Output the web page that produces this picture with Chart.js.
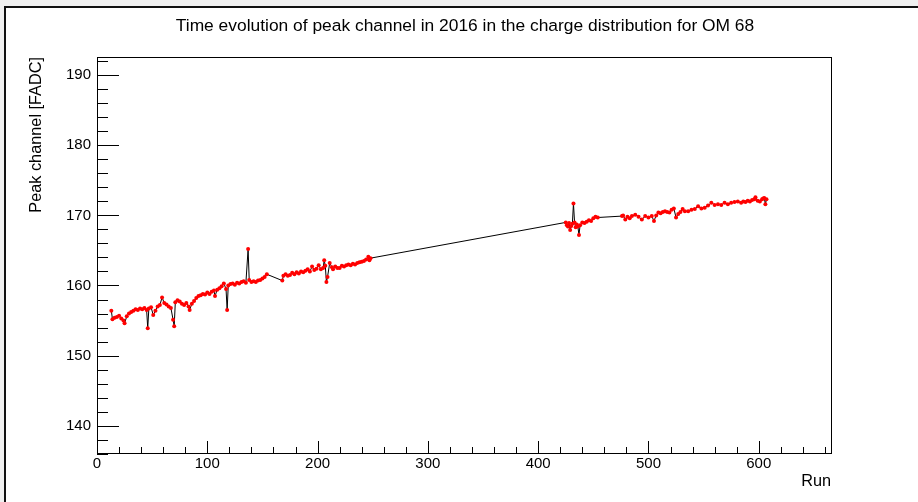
<!DOCTYPE html>
<html>
<head>
<meta charset="utf-8">
<script src="https://cdn.jsdelivr.net/npm/chart.js@4/dist/chart.umd.min.js"></script>
<style>
  html, body { margin: 0; padding: 0; background: #fff; }
  canvas { display: block; }
</style>
</head>
<body>
<canvas id="peakChart" width="918" height="502"></canvas>
<script>
// Peak channel per run, OM 68, 2016 — three data-taking periods
const runsA = [13, 14, 16, 18, 20, 22, 24, 25, 27, 29, 31, 33, 35, 37, 39, 41, 43, 45, 46, 47,
  49, 51, 53, 55, 57, 59, 61, 63, 65, 67, 69, 70, 71, 73, 75, 77, 79, 81, 83, 84,
  86, 88, 90, 92, 94, 96, 98, 100, 102, 104, 106, 107, 109, 111, 113, 115, 117, 118, 119, 121,
  123, 125, 127, 129, 131, 133, 135, 137, 138, 140, 142, 144, 146, 148, 150, 152, 154,
  168, 169, 171, 173, 175, 177, 179, 181, 183, 185, 187, 189, 191, 193, 195, 197, 199, 201,
  203, 205, 206, 207, 208, 209, 211, 213, 214, 216, 218, 220, 222, 224, 226, 228, 230, 232,
  234, 236, 238, 240, 242, 244, 246, 247, 248];
const peakA = [156.4, 155.2, 155.4, 155.5, 155.7, 155.3, 155.0, 154.6, 155.6, 156.0, 156.2, 156.4, 156.6, 156.5, 156.7, 156.6, 156.8, 156.5, 153.9, 156.7,
  156.9, 155.8, 156.4, 157.0, 157.2, 158.3, 157.5, 157.3, 157.0, 156.8, 155.1, 154.2, 157.6, 157.9, 157.7, 157.4, 157.2, 157.5, 157.0, 156.5,
  157.4, 157.8, 158.2, 158.5, 158.6, 158.8, 158.7, 159.0, 158.8, 159.1, 159.3, 158.5, 159.4, 159.6, 159.9, 160.3, 159.5, 156.5, 160.0, 160.2,
  160.3, 160.1, 160.4, 160.3, 160.5, 160.6, 160.4, 165.2, 160.8, 160.5, 160.6, 160.5, 160.7, 160.8, 161.0, 161.2, 161.6,
  160.7, 161.4, 161.6, 161.4, 161.5, 161.8, 161.6, 161.9, 161.7, 162.0, 161.9, 162.1, 162.3, 162.0, 162.7, 162.2, 162.4, 162.9,
  162.3, 162.5, 163.6, 162.8, 160.5, 161.2, 163.2, 162.6, 162.3, 162.7, 162.5, 162.5, 162.8, 162.7, 162.9, 163.0, 162.9, 163.1,
  163.0, 163.2, 163.3, 163.4, 163.5, 163.7, 164.1, 163.6, 163.9];

const runsB = [425, 426, 427, 428, 429, 430, 431, 432, 433, 434, 435, 436, 437, 438, 440, 442, 444, 446, 448, 450, 452, 454];
const peakB = [169.0, 168.6, 168.4, 168.9, 167.9, 168.5, 168.8, 171.7, 169.0, 168.3, 168.7, 168.4, 167.2, 168.6, 169.0, 168.9, 169.1, 169.3, 169.2, 169.6, 169.8, 169.7];

const runsC = [476, 477, 479, 481, 483, 485, 488, 491, 494, 497, 500, 503, 505, 507, 509, 511, 513, 515,
  517, 519, 521, 523, 525, 527, 529, 531, 533, 536, 539, 542, 545, 548, 551, 554,
  557, 560, 563, 566, 569, 572, 575, 578, 581, 584, 586, 588, 590, 592, 594, 596,
  597, 599, 601, 603, 604, 605, 606, 607];
const peakC = [169.9, 170.0, 169.4, 169.8, 169.6, 169.9, 170.1, 169.8, 169.4, 169.9, 169.7, 169.9, 169.2, 170.0, 170.4, 170.3, 170.5, 170.6,
  170.5, 170.4, 170.8, 171.0, 169.7, 170.2, 170.5, 170.9, 170.6, 170.6, 170.8, 170.9, 171.3, 171.0, 171.1, 171.4,
  171.8, 171.5, 171.6, 171.5, 171.8, 171.6, 171.8, 171.9, 172.0, 171.8, 172.0, 171.9, 172.1, 172.0, 172.2, 172.3,
  172.6, 172.1, 172.0, 172.3, 172.4, 172.5, 171.6, 172.3];

// Axis ranges and labelled ticks
const xRange = [0, 665.5];
const yRange = [136.1, 192.6];
const xTickValues = [0, 100, 200, 300, 400, 500, 600];
const yTickValues = [140, 150, 160, 170, 180, 190];

const FONT = "'Liberation Sans', Arial, Helvetica, sans-serif";

const runs = [...runsA, ...runsB, ...runsC];
const peaks = [...peakA, ...peakB, ...peakC];
const points = runs.map((r, i) => ({ x: r, y: peaks[i] }));

// Window frame, title, axis titles and inward tick marks
const rootStyle = {
    id: 'rootStyle',
    beforeDraw(c) {
        const ctx = c.ctx;
        ctx.save();
        ctx.fillStyle = '#f0f0f0';
        ctx.fillRect(0, 0, c.width, 6);
        ctx.fillRect(0, 0, 4, c.height);
        ctx.fillStyle = '#111';
        ctx.fillRect(4, 6, c.width - 4, 2);
        ctx.fillRect(4, 6, 2, c.height - 6);
        ctx.restore();
    },
    afterDraw(c) {
        const ctx = c.ctx;
        const area = c.chartArea;
        const xs = c.scales.x, ys = c.scales.y;
        ctx.save();

        // frame
        ctx.strokeStyle = '#000';
        ctx.lineWidth = 1;
        ctx.strokeRect(Math.round(area.left) + 0.5, Math.round(area.top) + 0.5,
            Math.round(area.right - area.left), Math.round(area.bottom - area.top));

        // x ticks, every 20, long on the hundreds
        ctx.beginPath();
        for (let v = 0; v <= xRange[1]; v += 20) {
            const px = Math.round(xs.getPixelForValue(v)) + 0.5;
            const len = v % 100 === 0 ? 12 : 6;
            ctx.moveTo(px, area.bottom);
            ctx.lineTo(px, area.bottom - len);
        }
        // y ticks, every 2, long on the tens
        for (let v = 136; v <= yRange[1]; v += 2) {
            const py = Math.round(ys.getPixelForValue(v)) + 0.5;
            const len = v % 10 === 0 ? 22 : 11;
            ctx.moveTo(area.left, py);
            ctx.lineTo(area.left + len, py);
        }
        ctx.stroke();

        // title
        ctx.fillStyle = '#000';
        ctx.font = '17.4px ' + FONT;
        ctx.textAlign = 'center';
        ctx.textBaseline = 'middle';
        ctx.fillText('Time evolution of peak channel in 2016 in the charge distribution for OM 68', 465, 26);

        // axis titles
        ctx.font = '16.3px ' + FONT;
        ctx.textAlign = 'right';
        ctx.fillText('Run', area.right, 482);
        ctx.translate(37, area.top);
        ctx.rotate(-Math.PI / 2);
        ctx.fillText('Peak channel [FADC]', 0, 0);
        ctx.restore();
    }
};

new Chart(document.getElementById('peakChart'), {
    type: 'line',
    data: {
        datasets: [{
            data: points,
            borderColor: '#000',
            borderWidth: 1,
            pointRadius: 2,
            pointBorderWidth: 0,
            pointBackgroundColor: '#ff0000',
            pointBorderColor: '#ff0000',
            tension: 0
        }]
    },
    options: {
        responsive: false,
        animation: false,
        devicePixelRatio: 1,
        layout: { padding: { top: 57, right: 87, bottom: 19, left: 0 } },
        plugins: {
            legend: { display: false },
            title: { display: false },
            tooltip: { enabled: false }
        },
        scales: {
            x: {
                type: 'linear',
                min: xRange[0],
                max: xRange[1],
                afterFit(scale) { scale.height = 30; },
                afterBuildTicks(scale) { scale.ticks = xTickValues.map(v => ({ value: v })); },
                grid: { display: false, drawTicks: false },
                border: { display: false },
                ticks: { color: '#000', font: { family: FONT, size: 15 }, padding: 2, maxRotation: 0, autoSkip: false }
            },
            y: {
                type: 'linear',
                min: yRange[0],
                max: yRange[1],
                afterFit(scale) { scale.width = 97; },
                afterBuildTicks(scale) { scale.ticks = yTickValues.map(v => ({ value: v })); },
                grid: { display: false, drawTicks: false },
                border: { display: false },
                ticks: { color: '#000', font: { family: FONT, size: 15 }, padding: 6, autoSkip: false }
            }
        }
    },
    plugins: [rootStyle]
});
</script>
</body>
</html>
